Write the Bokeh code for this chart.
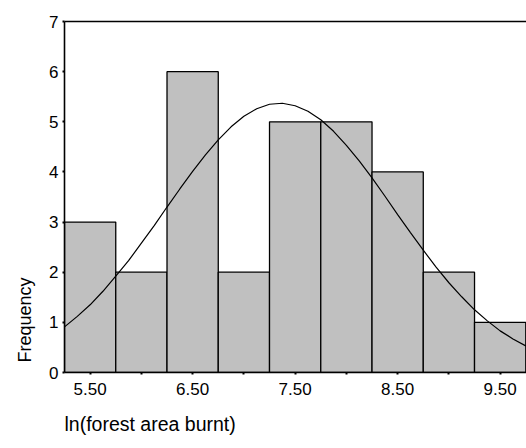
from bokeh.plotting import figure
from bokeh.models import FixedTicker, LinearAxis, Range1d, Title
from bokeh.embed import file_html
from bokeh.resources import INLINE

# Histogram data
bin_centers = [5.5, 6.0, 6.5, 7.0, 7.5, 8.0, 8.5, 9.0, 9.5]
counts = [3, 2, 6, 2, 5, 5, 4, 2, 1]
bin_width = 0.5

# Normal curve overlay
curve_x = [5.25, 5.375, 5.5, 5.625, 5.75, 5.875, 6.0, 6.125, 6.25, 6.375, 6.5, 6.625,
           6.75, 6.875, 7.0, 7.125, 7.25, 7.375, 7.5, 7.625, 7.75, 7.875, 8.0, 8.125,
           8.25, 8.375, 8.5, 8.625, 8.75, 8.875, 9.0, 9.125, 9.25, 9.375, 9.5, 9.625, 9.75]
curve_y = [0.91, 1.12, 1.35, 1.62, 1.92, 2.23, 2.58, 2.93, 3.30, 3.66, 4.01, 4.34,
           4.64, 4.90, 5.11, 5.26, 5.35, 5.37, 5.32, 5.21, 5.04, 4.81, 4.53, 4.22,
           3.88, 3.52, 3.15, 2.79, 2.44, 2.10, 1.79, 1.51, 1.25, 1.03, 0.83, 0.67, 0.53]

x_major = [5.5, 6.5, 7.5, 8.5, 9.5]
x_minor = [6.0, 7.0, 8.0, 9.0]
x_tick_labels = {5.5: "5.50", 6.5: "6.50", 7.5: "7.50", 8.5: "8.50", 9.5: "9.50"}
y_ticks = [0, 1, 2, 3, 4, 5, 6, 7]

x_title = "ln(forest area burnt)"
y_title = "Frequency"

FONT = "Liberation Sans"

p = figure(width=526, height=448, output_backend="svg", toolbar_location=None,
           x_range=Range1d(5.25, 9.757), y_range=Range1d(0, 7),
           min_border_left=64, min_border_right=0, min_border_top=21,
           min_border_bottom=76, outline_line_color=None, tools="")
p.grid.visible = False
p.background_fill_color = "white"
p.border_fill_color = "white"

p.vbar(x=bin_centers, top=counts, width=bin_width, bottom=0,
       fill_color="#c0c0c0", line_color="black", line_width=1.3)
p.line(curve_x, curve_y, line_color="black", line_width=1.2)

# x axis
xa = p.xaxis[0]
xa.ticker = FixedTicker(ticks=x_major, minor_ticks=x_minor)
xa.major_label_overrides = x_tick_labels
xa.axis_line_width = 1.6
xa.axis_line_color = "black"
xa.major_tick_in = 0
xa.major_tick_out = 2
xa.major_tick_line_width = 2
xa.minor_tick_in = 0
xa.minor_tick_out = 2
xa.minor_tick_line_width = 2
xa.major_label_text_font = FONT
xa.major_label_text_font_size = "17px"
xa.major_label_text_color = "black"
xa.major_label_standoff = 8

# y axis
ya = p.yaxis[0]
ya.ticker = FixedTicker(ticks=y_ticks)
ya.axis_line_width = 1.6
ya.axis_line_color = "black"
ya.major_tick_in = 0
ya.major_tick_out = 2
ya.major_tick_line_width = 2
ya.minor_tick_line_color = None
ya.major_label_text_font = FONT
ya.major_label_text_font_size = "17px"
ya.major_label_text_color = "black"
ya.major_label_standoff = 4

# top frame line (axis with no ticks or labels)
top = LinearAxis(ticker=FixedTicker(ticks=[]), major_tick_line_color=None,
                 minor_tick_line_color=None, axis_line_width=1.6,
                 axis_line_color="black")
p.add_layout(top, "above")

# axis titles
p.add_layout(Title(text=x_title, align="left", text_font=FONT, text_font_size="19.5px",
                   text_font_style="normal", text_color="black", standoff=26), "below")
p.add_layout(Title(text=y_title, align="left", offset=10, text_font=FONT,
                   text_font_size="18px", text_font_style="normal",
                   text_color="black", standoff=23), "left")

open("out.html", "w").write(file_html(p, INLINE))
